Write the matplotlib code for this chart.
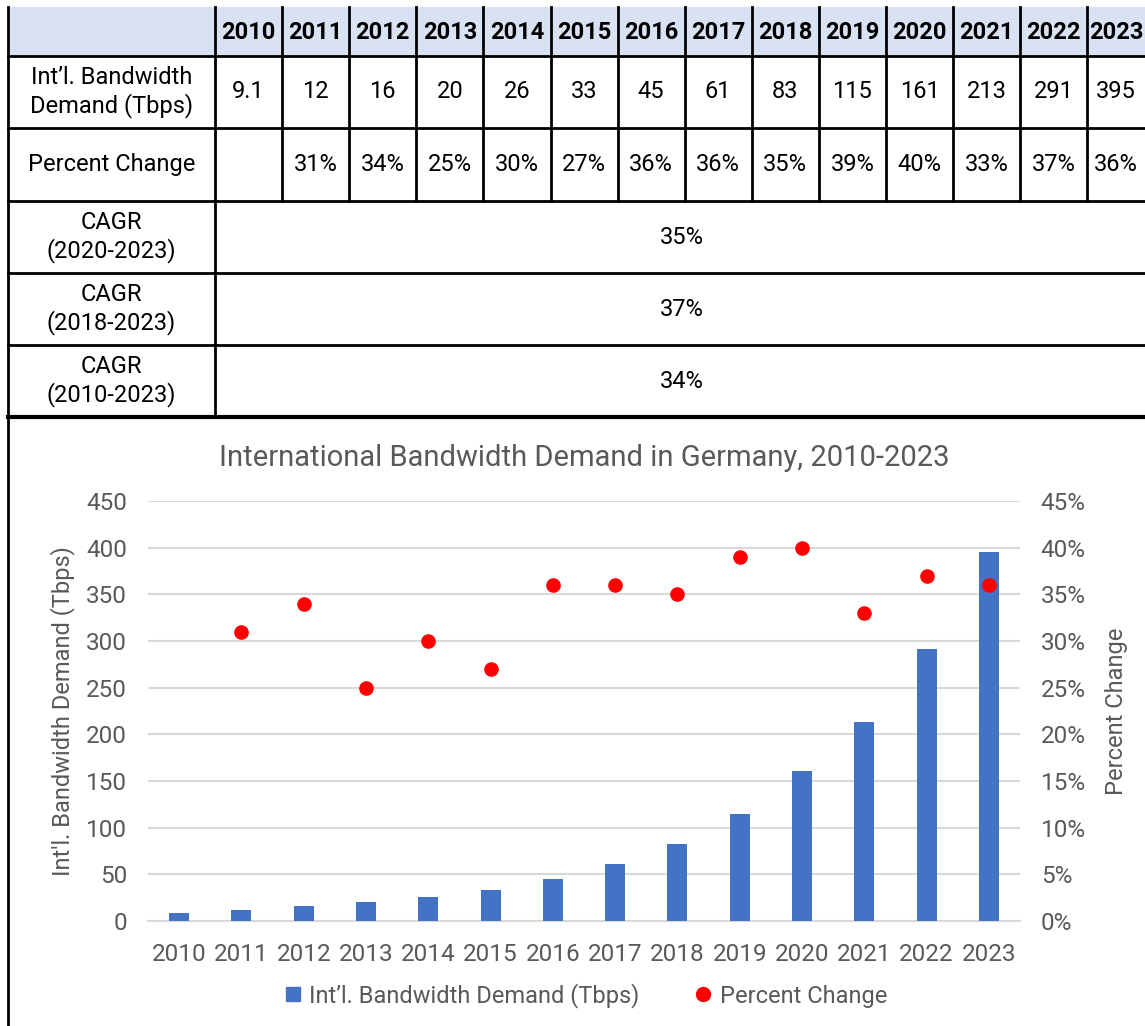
import matplotlib
matplotlib.use("Agg")
import matplotlib.pyplot as plt
from matplotlib.lines import Line2D
from matplotlib.patches import Rectangle

plt.rcParams["font.family"] = ["Roboto", "DejaVu Sans"]

years = [2010, 2011, 2012, 2013, 2014, 2015, 2016, 2017, 2018, 2019, 2020, 2021, 2022, 2023]
demand = [9.1, 12, 16, 20, 26, 33, 45, 61, 83, 115, 161, 213, 291, 395]
pct_change = [None, 31, 34, 25, 30, 27, 36, 36, 35, 39, 40, 33, 37, 36]
cagr_labels = ["CAGR\n(2020-2023)", "CAGR\n(2018-2023)", "CAGR\n(2010-2023)"]
cagr_values = ["35%", "37%", "34%"]

W, H = 1145, 1026
fig = plt.figure(figsize=(W / 100, H / 100), dpi=100)

# ---- table drawn in pixel coordinates on a full-figure axes
tab = fig.add_axes([0, 0, 1, 1])
tab.set_xlim(0, W)
tab.set_ylim(H, 0)
tab.axis("off")

x_left, x_first, col_w = 8, 215, 67.1
x_right = W
row_y = [7, 56, 128, 201, 273, 345, 417]
col_x = [x_first + i * col_w for i in range(len(years) + 1)]
col_x[-1] = x_right
blk = "black"
lw = 2

tab.add_patch(Rectangle((x_left, row_y[0]), x_right - x_left, row_y[1] - row_y[0],
                        facecolor="#D9E2F3", edgecolor="none"))
# horizontal lines
for y in row_y[1:-1]:
    tab.plot([x_left, x_right], [y, y], color=blk, lw=lw)
tab.plot([x_left, x_right], [row_y[-1], row_y[-1]], color=blk, lw=3)
# vertical lines
tab.plot([x_left, x_left], [row_y[0], H], color=blk, lw=lw)
tab.plot([x_first, x_first], [row_y[0], row_y[-1]], color=blk, lw=lw)
for x in col_x[1:-1]:
    tab.plot([x, x], [row_y[0], row_y[3]], color=blk, lw=lw)

fs = 17
for i, yr in enumerate(years):
    cx = (col_x[i] + col_x[i + 1]) / 2
    tab.text(cx, (row_y[0] + row_y[1]) / 2 + 1, str(yr), ha="center", va="center",
             fontsize=fs, fontweight="bold", color=blk)
    tab.text(cx, (row_y[1] + row_y[2]) / 2, f"{demand[i]:g}", ha="center", va="center",
             fontsize=fs, color=blk)
    if pct_change[i] is not None:
        tab.text(cx, (row_y[2] + row_y[3]) / 2, f"{pct_change[i]}%", ha="center",
                 va="center", fontsize=fs, color=blk)

lab_cx = (x_left + x_first) / 2
tab.text(lab_cx, (row_y[1] + row_y[2]) / 2, "Int\u2019l. Bandwidth\nDemand (Tbps)",
         ha="center", va="center", fontsize=fs, color=blk)
tab.text(lab_cx, (row_y[2] + row_y[3]) / 2, "Percent Change", ha="center", va="center",
         fontsize=fs, color=blk)
for k, (lab, val) in enumerate(zip(cagr_labels, cagr_values)):
    y0, y1 = row_y[3 + k], row_y[4 + k]
    tab.text(lab_cx, (y0 + y1) / 2, lab, ha="center", va="center", fontsize=fs, color=blk)
    tab.text(682, (y0 + y1) / 2, val, ha="center", va="center", fontsize=fs, color=blk)

# ---- chart
gray = "#595959"
ax_l, ax_r, ax_t, ax_b = 148, 1020, 501, 921
ax = fig.add_axes([ax_l / W, (H - ax_b) / H, (ax_r - ax_l) / W, (ax_b - ax_t) / H])
xs = list(range(len(years)))
ax.bar(xs, demand, width=0.32, color="#4472C4", zorder=3)
ax.set_xlim(-0.5, len(years) - 0.5)
ax.set_ylim(0, 450)
ax.set_yticks(range(0, 451, 50))
ax.set_xticks(xs)
ax.set_xticklabels([str(y) for y in years])
ax.grid(axis="y", color="#D9D9D9", lw=1.5, zorder=0)
for s in ["top", "right", "left"]:
    ax.spines[s].set_visible(False)
ax.spines["bottom"].set_color("#D9D9D9")
ax.spines["bottom"].set_linewidth(1.5)
ax.tick_params(axis="y", length=0, labelsize=17.5, labelcolor=gray, pad=15)
ax.tick_params(axis="x", length=0, labelsize=17.5, labelcolor=gray, pad=16)
ax.set_ylabel("Int'l. Bandwidth Demand (Tbps)", fontsize=17, color=gray, labelpad=8)
ax.set_title("International Bandwidth Demand in Germany, 2010-2023", fontsize=21,
             color=gray, pad=25)

ax2 = ax.twinx()
px = [x for x, p in zip(xs, pct_change) if p is not None]
py = [p for p in pct_change if p is not None]
ax2.scatter(px, py, s=90, color="#FF0000", zorder=4)
ax2.set_ylim(0, 45)
ax2.set_yticks(range(0, 46, 5))
ax2.set_yticklabels([f"{v}%" for v in range(0, 46, 5)])
for s in ax2.spines.values():
    s.set_visible(False)
ax2.tick_params(axis="y", length=0, labelsize=17.5, labelcolor=gray, pad=15)
ax2.set_ylabel("Percent Change", fontsize=17, color=gray, labelpad=14)

handles = [
    Line2D([], [], marker="s", ls="none", color="#4472C4", markersize=10,
           label="Int\u2019l. Bandwidth Demand (Tbps)"),
    Line2D([], [], marker="o", ls="none", color="#FF0000", markersize=10,
           label="Percent Change"),
]
ax.legend(handles=handles, loc="center", bbox_to_anchor=(0.5, -0.178), ncol=2,
          frameon=False, fontsize=17, labelcolor=gray, handletextpad=0.2,
          columnspacing=2.2, handlelength=1)

fig.savefig("out.png", dpi=100)
